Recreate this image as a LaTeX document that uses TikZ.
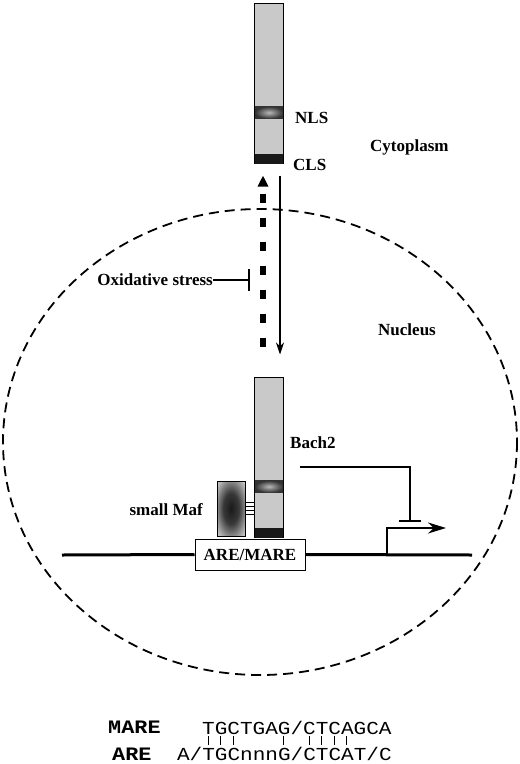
\documentclass[tikz,border=0pt]{standalone}
\usepackage{fontspec}
\setmainfont{Liberation Serif}
\newfontfamily\seqfont[FakeStretch=1.15]{Liberation Mono}
\usetikzlibrary{arrows.meta}
\pgfdeclareradialshading{mafglow}{\pgfpoint{0bp}{0bp}}{color(0bp)=(black!90); color(14bp)=(black!78); color(32bp)=(gray!50); color(50bp)=(gray!25)}
\begin{document}
\begin{tikzpicture}[x=1pt,y=-1pt,
  lbl/.style={inner sep=0pt,font=\fontsize{17}{20}\selectfont\bfseries},
  bar/.style={draw,line width=1pt,fill=gray!42,minimum width=29pt,minimum height=160pt,inner sep=0pt},
  seq/.style={inner sep=0pt,anchor=base west,font=\fontsize{18.3}{22}\selectfont\seqfont},
  seqlbl/.style={seq,font=\fontsize{19}{22}\selectfont\seqfont\bfseries}]
\useasboundingbox (0,0) rectangle (520,764);
\draw[line width=1.8pt,dash pattern=on 10pt off 6pt] (260,442) ellipse [x radius=257,y radius=233];
\foreach \n/\y in {top/83,bach/457}{
  \node[bar] (\n) at (269,\y) {};
  \shade[inner color=gray!55,outer color=black!80] ([xshift=-14pt,yshift=-104pt]\n.north) rectangle ([xshift=14pt,yshift=-116pt]\n.north);
  \fill[black!90] ([xshift=-14pt]\n.south) rectangle ([xshift=14pt,yshift=10pt]\n.south);
}
\node[lbl,anchor=west] (nls) at (295,118) {NLS};
\node[lbl,anchor=west] (cls) at (293,165) {CLS};
\node[lbl,anchor=west] (cyto) at (370,147) {Cytoplasm};
\node[lbl,anchor=west] (nuc) at (378,330) {Nucleus};
\node[lbl,anchor=east] (ox) at (213,280) {Oxidative stress};
\node[lbl,anchor=west] (bachlbl) at (290,443) {Bach2};
\node[lbl,anchor=east] (maflbl) at (203,510) {small Maf};
\draw[line width=6pt,dash pattern=on 9pt off 15pt,-{Triangle[width=10pt,length=11pt]}]
  ([xshift=-6pt]bach.north) -- ([xshift=-6pt]top.south) [shorten <=30pt,shorten >=12pt];
\draw[line width=1.4pt,-{Stealth[width=8pt,length=12pt]},shorten <=12pt,shorten >=22pt]
  ([xshift=11pt]top.south) -- ([xshift=11pt]bach.north);
\coordinate (ih) at (250,280);
\draw[line width=1.8pt,-{Bar[width=22pt]}] (ox.east) -- (ih);
\node[draw,line width=1pt,inner sep=0pt,minimum width=28pt,minimum height=55pt,
  shading=mafglow] (maf) at (231,508.5) {};
\foreach \d in {-6,-2,2,6}
  \draw[line width=0.8pt] ([yshift=\d pt]maf.east) -- ([yshift=\d pt]maf.east -| bach.west);
\node[draw,line width=1pt,fill=white,minimum width=110pt,minimum height=31pt,inner sep=0pt,
  font=\fontsize{17}{20}\selectfont\bfseries] (are) at (250,554.5) {ARE/MARE};
\coordinate (dnaL) at (62,555);
\coordinate (dnaR) at (472,555);
\coordinate (tss) at (387,555);
\draw[line width=3pt] (dnaL) -- (are.west) (are.east) -- (dnaR);
\draw[line width=2pt,-{Stealth[width=11pt,length=18pt]}] (tss) |- (446,528);
\coordinate (rep) at (410,522);
\draw[line width=2pt,-{Bar[width=22pt]}] (300,467) -| (rep);
\node[seqlbl] (marelbl) at (108,733) {MARE};
\node[seqlbl] (arelbl) at (112,760) {ARE};
\node[seq] (mare) at (202,734) {TGCTGAG/CTCAGCA};
\node[seq] (are2) at (176.8,760) {A/TGCnnnG/CTCAT/C};
\foreach \i in {0,1,2,6,8,9,10,11}
  \draw[line width=0.9pt] (202+12.6*\i+6.3,736) -- ++(0,9);
\end{tikzpicture}
\end{document}
